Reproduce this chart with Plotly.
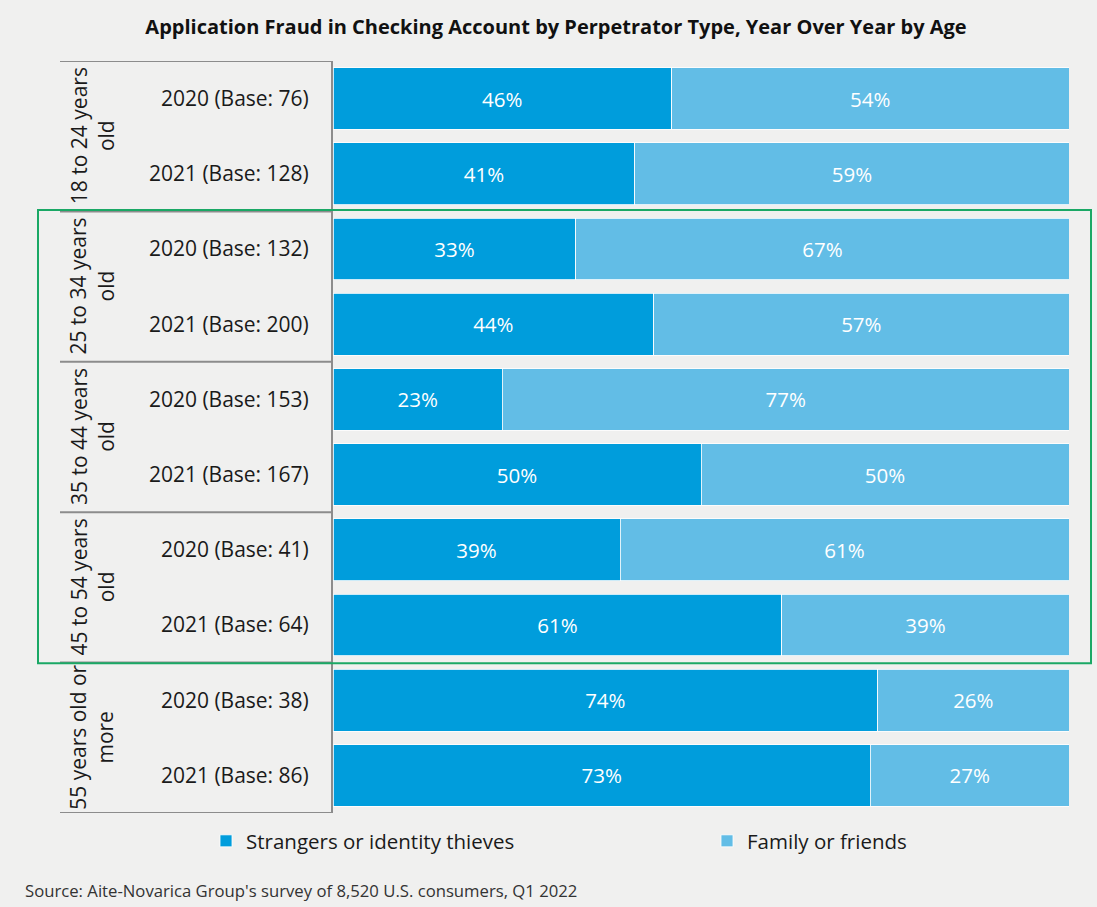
import plotly.graph_objects as go

# Survey data: share of application fraud by perpetrator type
age_groups = ["18 to 24 years<br>old", "25 to 34 years<br>old", "35 to 44 years<br>old",
              "45 to 54 years<br>old", "55 years old or<br>more"]
bar_labels = ["2020 (Base: 76)", "2021 (Base: 128)",
              "2020 (Base: 132)", "2021 (Base: 200)",
              "2020 (Base: 153)", "2021 (Base: 167)",
              "2020 (Base: 41)", "2021 (Base: 64)",
              "2020 (Base: 38)", "2021 (Base: 86)"]
strangers = [46, 41, 33, 44, 23, 50, 39, 61, 74, 73]
family = [54, 59, 67, 57, 77, 50, 61, 39, 26, 27]

DARK = "#009ddc"
LIGHT = "#62bde6"
BG = "#f0f0ef"
AXIS_GRAY = "#8c8c8c"
GREEN = "#1aa865"
FONT = "Open Sans"

positions = list(range(len(bar_labels)))

L, R, T, B = 333, 28, 61, 94
W, H = 1097, 907
pw = W - L - R
ph = H - T - B


def px_to_paper_x(px):
    return (px - L) / pw


def px_to_paper_y(py):
    return (H - B - py) / ph


fig = go.Figure()
for name, vals, color, leg in [("Strangers or identity thieves", strangers, DARK, "legend"),
                               ("Family or friends", family, LIGHT, "legend2")]:
    fig.add_trace(go.Bar(
        y=positions, x=vals, name=name, orientation="h", legend=leg,
        marker=dict(color=color, line=dict(color="#ffffff", width=0.8)),
        text=[f"{v}%" for v in vals], texttemplate="%{text}",
        textposition="inside", insidetextanchor="middle", textangle=0,
        textfont=dict(color="white", size=20.5, family=FONT),
        hoverinfo="skip",
    ))

legend_common = dict(orientation="h", xanchor="left", yanchor="middle",
                     bgcolor="rgba(0,0,0,0)",
                     font=dict(size=20.5, color="#1a1a1a", family=FONT))

fig.update_layout(
    width=W, height=H,
    barmode="stack", barnorm="percent", bargap=0.18,
    paper_bgcolor=BG, plot_bgcolor=BG,
    margin=dict(l=L, r=R, t=T, b=B),
    font=dict(family=FONT, color="#1a1a1a"),
    xaxis=dict(visible=False, range=[0, 100], fixedrange=True),
    yaxis=dict(
        tickmode="array", tickvals=positions, ticktext=bar_labels,
        autorange=False, range=[len(positions) - 0.5, -0.5],
        showgrid=False, zeroline=False, ticks="",
        showline=True, linecolor=AXIS_GRAY, linewidth=2,
        tickfont=dict(size=21, color="#1a1a1a", family=FONT),
        ticklabelstandoff=18,
    ),
    legend=dict(x=px_to_paper_x(206), y=px_to_paper_y(841), **legend_common),
    legend2=dict(x=px_to_paper_x(707), y=px_to_paper_y(841), **legend_common),
    title=dict(text="<b>Application Fraud in Checking Account by Perpetrator Type, Year Over Year by Age</b>",
               x=556 / W, xanchor="center", y=1 - 27 / H, yanchor="middle",
               font=dict(size=20, color="#111111", family=FONT)),
    showlegend=True,
)

# Group separators on the category axis
shapes = []
for b in [-0.5, 1.5, 3.5, 5.5, 7.5, 9.5]:
    shapes.append(dict(type="line", xref="paper", yref="y",
                       x0=px_to_paper_x(60), x1=0, y0=b, y1=b,
                       line=dict(color=AXIS_GRAY, width=2)))
# Highlight box around the middle age groups
shapes.append(dict(type="rect", xref="paper", yref="y",
                   x0=px_to_paper_x(38), x1=px_to_paper_x(1091),
                   y0=1.48, y1=7.51, line=dict(color=GREEN, width=2),
                   fillcolor="rgba(0,0,0,0)", layer="above"))
fig.update_layout(shapes=shapes)

# Rotated age-group labels
for i, g in enumerate(age_groups):
    fig.add_annotation(text=g, xref="paper", yref="y",
                       x=px_to_paper_x(92), y=2 * i + 0.5, textangle=-90,
                       xanchor="center", yanchor="middle",
                       showarrow=False, align="center",
                       font=dict(size=21, color="#1a1a1a", family=FONT))

fig.add_annotation(text="Source: Aite-Novarica Group's survey of 8,520 U.S. consumers, Q1 2022",
                   xref="paper", yref="paper", x=px_to_paper_x(23), xanchor="left",
                   y=px_to_paper_y(890), yanchor="middle",
                   showarrow=False, font=dict(size=16.7, color="#333333", family=FONT))

fig.write_html("out.html")
